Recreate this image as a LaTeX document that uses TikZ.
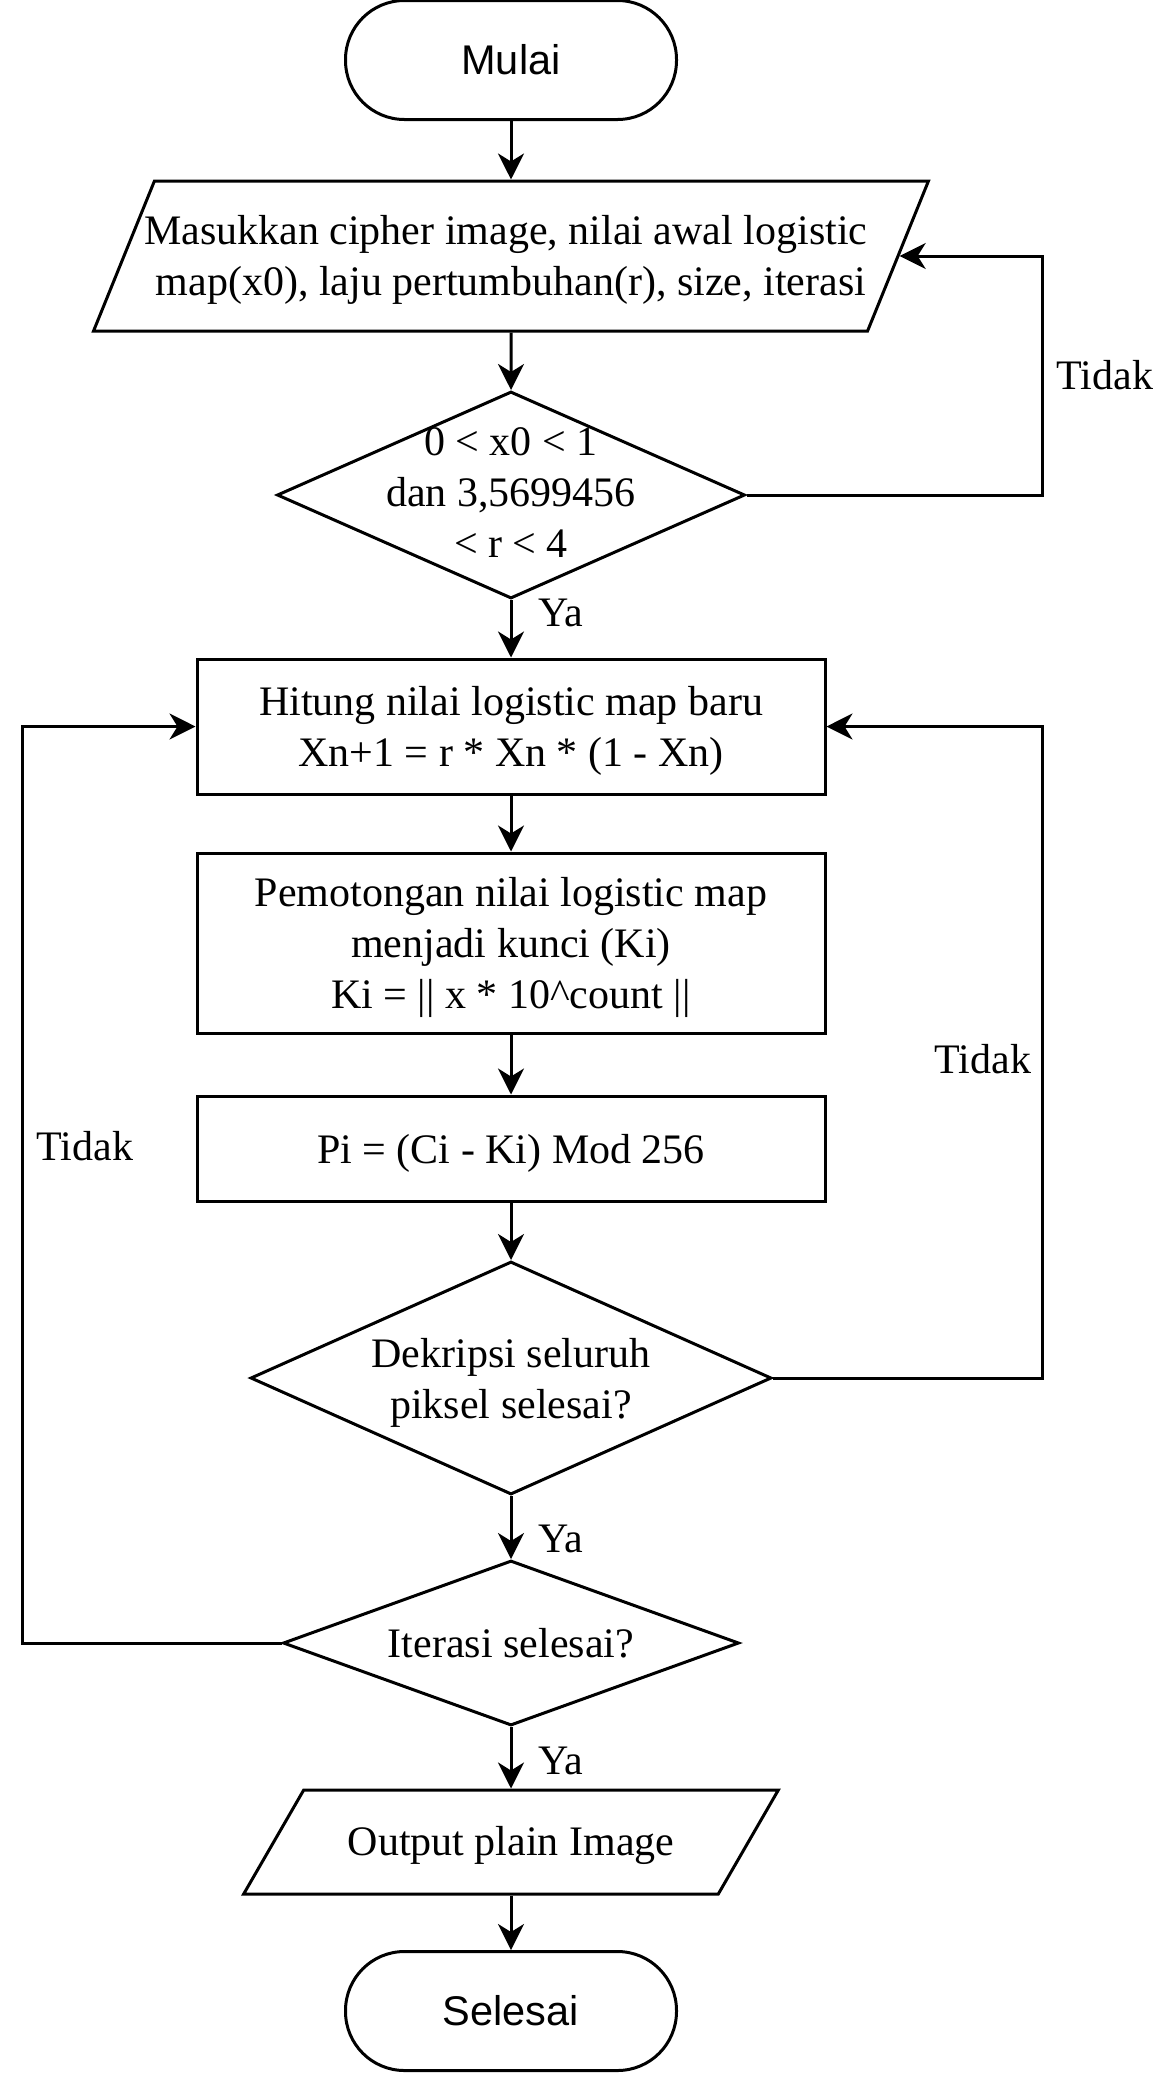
\documentclass[tikz,border=0pt]{standalone}
\usepackage{fontspec}
\setmainfont{Liberation Serif}
\newfontfamily\arialfont{Liberation Sans}
\usepackage{tikz}
\usetikzlibrary{shapes.geometric, arrows.meta, positioning}
\newcommand{\flowsize}{\fontsize{42pt}{51pt}\selectfont}
\newcommand{\termsize}{\fontsize{41.5pt}{50pt}\selectfont}
\tikzstyle{terminal} = [rectangle, rounded corners=59pt, minimum width=331pt,
 minimum height=119pt, text centered, draw=black, line width=3pt,
 font=\arialfont\termsize]
\tikzstyle{process} = [rectangle, minimum width=628pt, minimum height=135pt,
 align=center, text depth=0pt, draw=black, line width=3pt, font=\flowsize]
\tikzstyle{decision} = [diamond, inner sep=0pt, align=center, text depth=0pt,
 draw=black, line width=3pt, font=\flowsize]
\tikzstyle{io} = [trapezium, inner sep=0pt, align=center, draw=black,
 line width=3pt, font=\flowsize]
\tikzstyle{arrow} = [line width=3pt, -{Stealth[length=26pt, width=26pt, inset=8pt]}]
\tikzstyle{answer} = [font=\flowsize, inner sep=0pt]

\begin{document}
\begin{tikzpicture}[x=1pt, y=-1pt, node distance=200pt]
\useasboundingbox (0,0) rectangle (1152,2073);
\coordinate (laneL) at (22,0);
\coordinate (laneR) at (1042,0);
\node(start) [terminal] at (511,60) {Mulai};
\node(input) [io, below of=start, yshift=4pt, inner xsep=-10.25pt,
 text height=114pt, text depth=36pt,
 trapezium left angle=67.9, trapezium right angle=112.1]
 {Masukkan cipher image, nilai awal logistic\kern10.5pt\mbox{}\\map(x0), laju pertumbuhan(r), size, iterasi};
\node(check) [decision, below of=input, yshift=-39pt, minimum width=468pt,
 minimum height=207pt, aspect=2.26, text height=124pt, inner ysep=-25pt]
 {0 < x0 < 1\\dan 3,5699456\\< r < 4};
\node(logmap) [process, below of=check, yshift=-31.5pt]
 {Hitung nilai logistic map baru\\Xn+1 = r * Xn * (1 - Xn)};
\node(key) [process, below of=logmap, yshift=-16.5pt, minimum height=180pt]
 {Pemotongan nilai logistic map\\menjadi kunci (Ki)\\Ki = || x * 10\textasciicircum count ||};
\node(decrypt) [process, below of=key, yshift=-5.5pt, minimum height=105pt]
 {Pi = (Ci - Ki) Mod 256};
\node(allpix) [decision, below of=decrypt, yshift=-29.5pt, minimum width=521pt,
 minimum height=233pt, aspect=2.24] {Dekripsi seluruh\\piksel selesai?};
\node(iterdone) [decision, below of=allpix, yshift=-65pt, minimum width=456pt,
 minimum height=165pt, aspect=2.76] {Iterasi selesai?};
\node(output) [io, below of=iterdone, yshift=1pt, inner xsep=44pt,
 text height=65pt, text depth=39pt,
 trapezium left angle=60, trapezium right angle=120]
 {Output plain Image};
\node(stop) [terminal, below of=output, yshift=31pt] {Selesai};
\draw[arrow] (start) -- (input);
\draw[arrow] (input) -- (check);
\draw[arrow] (check) -- node[answer, anchor=west, xshift=26pt, pos=0.22] {Ya} (logmap);
\draw[arrow] (check.east) -- (check.east -| laneR) |- node[answer, anchor=west,
 xshift=13pt, pos=0.25] {Tidak} (input.east);
\draw[arrow] (logmap) -- (key);
\draw[arrow] (key) -- (decrypt);
\draw[arrow] (decrypt) -- (allpix);
\draw[arrow] (allpix) -- node[answer, anchor=west, xshift=26pt, pos=0.68] {Ya} (iterdone);
\draw[arrow] (allpix.east) -- (allpix.east -| laneR) |- node[answer, anchor=east,
 xshift=-9.5pt, pos=0.245] {Tidak} (logmap.east);
\draw[arrow] (iterdone) -- node[answer, anchor=west, xshift=26pt, pos=0.555] {Ya} (output);
\draw[arrow] (iterdone.west) -- (iterdone.west -| laneL) |- node[answer, anchor=west,
 xshift=13pt, pos=0.271] {Tidak} (logmap.west);
\draw[arrow] (output) -- (stop);
\end{tikzpicture}
\end{document}
